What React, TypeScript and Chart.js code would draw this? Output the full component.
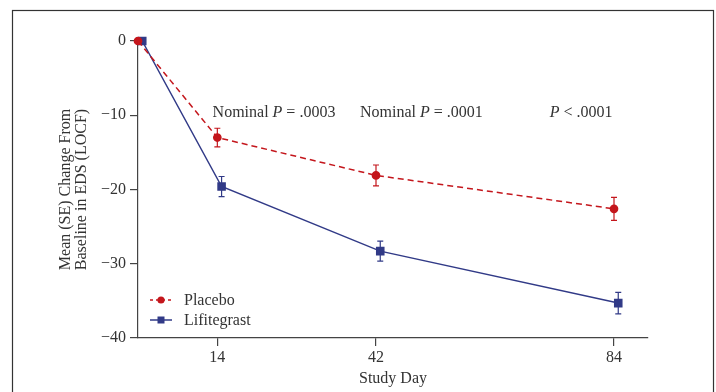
import { useEffect, useRef } from 'react';
import { Chart, registerables } from 'chart.js';

Chart.register(...registerables);

// ---------- data ----------
const studyDays = [0, 14, 42, 84];
const xTickDays = [14, 42, 84];
const yTickValues = [0, -10, -20, -30, -40];
const placeboMean = [0, -13.0, -18.1, -22.6];
const placeboSE = [0, 1.25, 1.4, 1.55];
const lifitegrastMean = [0, -19.6, -28.3, -35.3];
const lifitegrastSE = [0, 1.35, 1.35, 1.45];
const seriesLabels = ['Placebo', 'Lifitegrast'];
const pNoteDays = [24, 50, 78.2];
const pNoteValue = -10.2;
const pNotePrefix = ['Nominal ', 'Nominal ', ''];
const pNoteSuffix = [' = .0003', ' = .0001', ' < .0001'];

// ---------- styles ----------
const FONT = "'Liberation Serif', 'Times New Roman', serif";
const TEXT = '#333333';
const AXIS = '#444444';
const RED = '#c4161c';
const BLUE = '#313a87';
const LIF_DODGE = 0.75;

const errorBarPlugin = {
  id: 'errorBars',
  afterDatasetsDraw(chart: any) {
    const { ctx } = chart;
    const yScale = chart.scales.y;
    chart.data.datasets.forEach((ds: any, i: number) => {
      const meta = chart.getDatasetMeta(i);
      ctx.save();
      ctx.strokeStyle = ds.borderColor;
      ctx.lineWidth = 1.2;
      ctx.setLineDash([]);
      meta.data.forEach((pt: any, j: number) => {
        const se = ds.se[j];
        if (!se) return;
        const v = ds.data[j].y;
        const top = yScale.getPixelForValue(v + se);
        const bot = yScale.getPixelForValue(v - se);
        const x = pt.x;
        ctx.beginPath();
        ctx.moveTo(x, top);
        ctx.lineTo(x, bot);
        ctx.moveTo(x - 3, top);
        ctx.lineTo(x + 3, top);
        ctx.moveTo(x - 3, bot);
        ctx.lineTo(x + 3, bot);
        ctx.stroke();
      });
      ctx.restore();
    });
  },
};

const notesPlugin = {
  id: 'pNotes',
  afterDraw(chart: any) {
    const { ctx } = chart;
    const xs = chart.scales.x;
    const ys = chart.scales.y;
    ctx.save();
    ctx.fillStyle = TEXT;
    ctx.textBaseline = 'alphabetic';
    const normal = `16px ${FONT}`;
    const italic = `italic 16px ${FONT}`;
    pNoteDays.forEach((d, i) => {
      ctx.font = normal;
      const w1 = ctx.measureText(pNotePrefix[i]).width;
      const w3 = ctx.measureText(pNoteSuffix[i]).width;
      ctx.font = italic;
      const w2 = ctx.measureText('P').width;
      const total = w1 + w2 + w3;
      let x = xs.getPixelForValue(d) - total / 2;
      const y = ys.getPixelForValue(pNoteValue);
      ctx.font = normal;
      ctx.fillText(pNotePrefix[i], x, y);
      x += w1;
      ctx.font = italic;
      ctx.fillText('P', x, y);
      x += w2;
      ctx.font = normal;
      ctx.fillText(pNoteSuffix[i], x, y);
    });
    ctx.restore();
  },
};

const legendPlugin = {
  id: 'insideLegend',
  afterDraw(chart: any) {
    const { ctx, chartArea } = chart;
    ctx.save();
    chart.data.datasets.forEach((ds: any, i: number) => {
      const y = chartArea.bottom - 38 + i * 20;
      const x0 = chartArea.left + 12;
      const x1 = x0 + 22;
      const xm = (x0 + x1) / 2;
      ctx.strokeStyle = ds.borderColor;
      ctx.lineWidth = 1.5;
      ctx.setLineDash(ds.borderDash && ds.borderDash.length ? [3, 3] : []);
      ctx.beginPath();
      ctx.moveTo(x0, y);
      ctx.lineTo(x1, y);
      ctx.stroke();
      ctx.setLineDash([]);
      ctx.fillStyle = ds.pointBackgroundColor;
      ctx.beginPath();
      if (ds.pointStyle === 'rect') {
        ctx.rect(xm - 3.5, y - 3.5, 7, 7);
      } else {
        ctx.arc(xm, y, 3.6, 0, Math.PI * 2);
      }
      ctx.fill();
      ctx.fillStyle = TEXT;
      ctx.font = `16px ${FONT}`;
      ctx.textBaseline = 'middle';
      ctx.fillText(ds.label, x1 + 12, y + 1);
    });
    ctx.restore();
  },
};

const framePlugin = {
  id: 'frame',
  beforeDraw(chart: any) {
    const { ctx } = chart;
    ctx.save();
    ctx.fillStyle = '#ffffff';
    ctx.fillRect(0, 0, chart.width, chart.height);
    ctx.strokeStyle = '#333333';
    ctx.lineWidth = 1.2;
    ctx.strokeRect(12.5, 10.5, 701, 500);
    ctx.restore();
  },
};

export default function App() {
  const ref = useRef<HTMLCanvasElement | null>(null);

  useEffect(() => {
    if (!ref.current) return;
    Chart.defaults.font.family = FONT;
    const chart = new Chart(ref.current, {
      type: 'line',
      data: {
        datasets: [
          {
            label: seriesLabels[0],
            data: studyDays.map((d, i) => ({ x: d, y: placeboMean[i] })),
            se: placeboSE,
            borderColor: RED,
            backgroundColor: RED,
            pointBackgroundColor: RED,
            pointBorderColor: RED,
            pointStyle: 'circle',
            pointRadius: 3.6,
            borderWidth: 1.5,
            borderDash: [6, 4],
            tension: 0,
            clip: false,
          } as any,
          {
            label: seriesLabels[1],
            data: studyDays.map((d, i) => ({ x: d + LIF_DODGE, y: lifitegrastMean[i] })),
            se: lifitegrastSE,
            borderColor: BLUE,
            backgroundColor: BLUE,
            pointBackgroundColor: BLUE,
            pointBorderColor: BLUE,
            pointStyle: 'rect',
            pointRadius: 5,
            borderWidth: 1.5,
            borderDash: [],
            tension: 0,
            clip: false,
          } as any,
        ],
      },
      options: {
        responsive: false,
        animation: false,
        layout: { padding: { left: 0, right: 68, top: 41, bottom: 0 } },
        plugins: {
          legend: { display: false },
          tooltip: { enabled: false },
        },
        scales: {
          x: {
            type: 'linear',
            min: 0,
            max: 90,
            afterBuildTicks: (s: any) => {
              s.ticks = xTickDays.map((v) => ({ value: v }));
            },
            afterFit: (s: any) => {
              s.height = 54;
            },
            ticks: {
              color: TEXT,
              font: { size: 16, family: FONT },
              padding: 2,
              callback: (v: any) => String(v),
            },
            grid: {
              drawOnChartArea: false,
              drawTicks: true,
              tickLength: 8,
              color: AXIS,
              lineWidth: 1.2,
            },
            border: { display: true, color: AXIS, width: 1.2 },
            title: {
              display: true,
              text: 'Study Day',
              color: TEXT,
              font: { size: 16, family: FONT, lineHeight: 1 },
              padding: { top: 0, bottom: 5 },
            },
          },
          y: {
            type: 'linear',
            min: -40,
            max: 0,
            afterBuildTicks: (s: any) => {
              s.ticks = yTickValues.map((v) => ({ value: v }));
            },
            afterFit: (s: any) => {
              s.width = 138;
            },
            ticks: {
              color: TEXT,
              font: { size: 16, family: FONT },
              padding: 4,
              callback: (v: any) => (v < 0 ? '\u2212' + Math.abs(v) : String(v)),
            },
            grid: {
              drawOnChartArea: false,
              drawTicks: true,
              tickLength: 8,
              color: AXIS,
              lineWidth: 1.2,
            },
            border: { display: true, color: AXIS, width: 1.2 },
            title: {
              display: true,
              text: ['Mean (SE) Change From', 'Baseline in EDS (LOCF)'],
              color: TEXT,
              font: { size: 16, family: FONT, lineHeight: 1.03 },
              padding: { top: 57.5, bottom: 0 },
            },
          },
        },
      },
      plugins: [framePlugin, errorBarPlugin, notesPlugin, legendPlugin],
    } as any);
    return () => chart.destroy();
  }, []);

  return (
    <div style={{ position: 'absolute', left: 0, top: 0, width: 716, height: 392, overflow: 'hidden' }}>
      <canvas ref={ref} width={716} height={392} style={{ display: 'block', width: 716, height: 392 }} />
    </div>
  );
}
